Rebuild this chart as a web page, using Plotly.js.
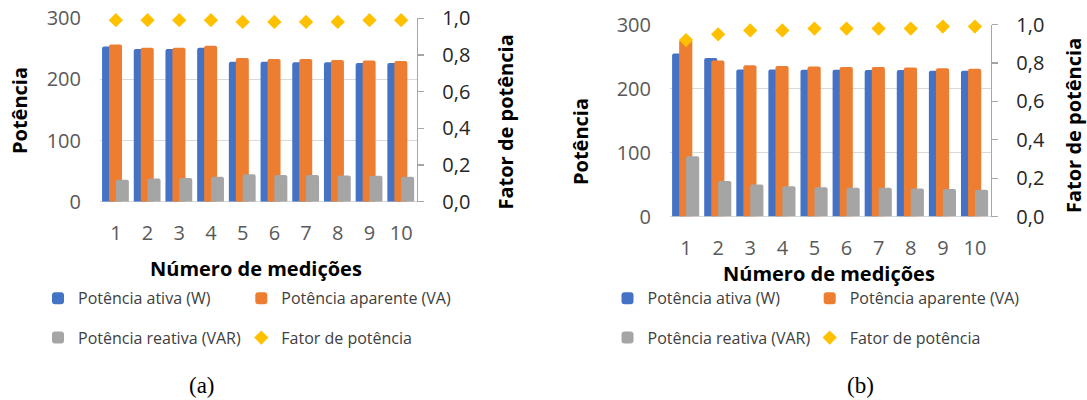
<!DOCTYPE html>
<html>
<head>
<meta charset="utf-8">
<script src="https://cdn.plot.ly/plotly-3.0.1.min.js"></script>
<style>
  html, body { margin: 0; padding: 0; background: #ffffff; }
  #grafico { width: 1087px; height: 400px; }
</style>
</head>
<body>
<div id="grafico"></div>
<script>
// Medições 1..10
const medicoes = ['1', '2', '3', '4', '5', '6', '7', '8', '9', '10'];

// (a)
const ativaA    = [254, 250, 250, 252, 229, 229, 228, 228, 227, 227];
const aparenteA = [257, 252, 252, 255, 235, 233.5, 233.5, 232, 231, 230];
const reativaA  = [36, 38, 39, 41, 45, 44, 44, 43, 42.5, 41];
const fatorA    = [0.99, 0.99, 0.99, 0.99, 0.98, 0.98, 0.98, 0.98, 0.99, 0.99];

// (b)
const ativaB    = [255, 248, 230, 230, 229.5, 229.5, 229, 229, 228, 228];
const aparenteB = [276, 244, 236.5, 235.5, 234.5, 234, 234, 233, 232, 231];
const reativaB  = [94.5, 55.5, 50, 47.5, 46, 45, 45, 44, 43, 42];
const fatorB    = [0.92, 0.95, 0.97, 0.97, 0.98, 0.98, 0.98, 0.98, 0.99, 0.99];

const nomes = {
  ativa: 'Potência ativa (W)',
  aparente: 'Potência aparente (VA)',
  reativa: 'Potência reativa (VAR)',
  fator: 'Fator de potência'
};

const cores = { ativa: '#4472C4', aparente: '#ED7D31', reativa: '#A5A5A5', fator: '#FFC000' };

const W = 1087, H = 400;
const FONTE = 'Open Sans, Lato, sans-serif';
const BAR_W = 0.41;

function barra(y, nome, cor, off, xa, ya, leg) {
  return {
    type: 'bar', x: medicoes, y: y, name: nome,
    width: BAR_W, offset: off,
    marker: { color: cor, cornerradius: 2, line: { width: 0 } },
    xaxis: xa, yaxis: ya, legend: leg, hoverinfo: 'skip'
  };
}
function fator(y, xa, ya, leg) {
  return {
    type: 'scatter', mode: 'markers', x: medicoes, y: y, name: nomes.fator,
    marker: { symbol: 'diamond', size: 11, color: cores.fator, line: { width: 0 } },
    xaxis: xa, yaxis: ya, legend: leg, cliponaxis: false, hoverinfo: 'skip'
  };
}

const dados = [
  barra(ativaA, nomes.ativa, cores.ativa, -0.435, 'x', 'y', 'legend'),
  barra(aparenteA, nomes.aparente, cores.aparente, -0.215, 'x', 'y', 'legend2'),
  barra(reativaA, nomes.reativa, cores.reativa, 0.0, 'x', 'y', 'legend3'),
  fator(fatorA, 'x', 'y2', 'legend4'),
  barra(ativaB, nomes.ativa, cores.ativa, -0.435, 'x2', 'y3', 'legend5'),
  barra(aparenteB, nomes.aparente, cores.aparente, -0.215, 'x2', 'y3', 'legend6'),
  barra(reativaB, nomes.reativa, cores.reativa, 0.0, 'x2', 'y3', 'legend7'),
  fator(fatorB, 'x2', 'y4', 'legend8')
];

const eixoX = (dom, anc) => ({
  domain: dom, anchor: anc, type: 'category', range: [-0.5, 9.5],
  showgrid: false, zeroline: false, showline: false, ticks: '',
  tickfont: { family: FONTE, size: 20, color: '#595959' },
  ticklabelstandoff: 17, fixedrange: true
});
const eixoPot = (dom, anc) => ({
  domain: dom, anchor: anc, range: [0, 300], tick0: 0, dtick: 100,
  showgrid: true, gridcolor: '#d9d9d9', gridwidth: 1.3,
  zeroline: true, zerolinecolor: '#d9d9d9', zerolinewidth: 1.3,
  showline: false, ticks: '',
  tickfont: { family: FONTE, size: 20, color: '#595959' },
  ticklabelstandoff: 18, fixedrange: true
});
const eixoFator = (sobre, anc) => ({
  overlaying: sobre, anchor: anc, side: 'right', range: [0, 1], tick0: 0, dtick: 0.2,
  tickformat: '.1f', showgrid: false, zeroline: false,
  showline: true, linecolor: '#a6a6a6', linewidth: 1.3,
  ticks: 'outside', ticklen: 6, tickcolor: '#a6a6a6', tickwidth: 1.3,
  tickfont: { family: FONTE, size: 20, color: '#262626' },
  ticklabelstandoff: 14, fixedrange: true
});

// one legend box per entry, so every entry sits at its own spot
const legenda = (textoX, ypx) => ({
  x: (textoX - 39) / W, xanchor: 'left', y: 1 - ypx / H, yanchor: 'middle',
  orientation: 'h',
  font: { family: FONTE, size: 16, color: '#404040' },
  bgcolor: 'rgba(0,0,0,0)', borderwidth: 0
});

const rotulo = (texto, xpx, ypx, extra) => Object.assign({
  text: texto, xref: 'paper', yref: 'paper', x: xpx / W, y: 1 - ypx / H,
  xanchor: 'center', yanchor: 'middle', showarrow: false,
  font: { family: FONTE, size: 20, color: '#000000', weight: 'bold' }
}, extra || {});

const serif = { font: { family: 'Liberation Serif, Times New Roman, serif', size: 23, color: '#000000' } };

const layout = {
  width: W, height: H, autosize: false,
  margin: { l: 0, r: 0, t: 0, b: 0, pad: 0 },
  paper_bgcolor: '#ffffff', plot_bgcolor: '#ffffff',
  separators: ',.',
  barmode: 'overlay',
  showlegend: true,
  xaxis: eixoX([100 / W, 417 / W], 'y'),
  yaxis: eixoPot([1 - 201.8 / H, 1 - 18.3 / H], 'x'),
  yaxis2: eixoFator('y', 'x'),
  xaxis2: eixoX([670 / W, 991 / W], 'y3'),
  yaxis3: eixoPot([1 - 216.6 / H, 1 - 24.7 / H], 'x2'),
  yaxis4: eixoFator('y3', 'x2'),
  legend:  legenda(77, 298.3),
  legend2: legenda(280.3, 298.3),
  legend3: legenda(77, 337.7),
  legend4: legenda(280.3, 337.7),
  legend5: legenda(646.5, 298.3),
  legend6: legenda(848.7, 298.3),
  legend7: legenda(646.5, 337.7),
  legend8: legenda(848.7, 337.7),
  annotations: [
    rotulo('Potência', 19, 111, { textangle: -90 }),
    rotulo('Fator de potência', 505, 122.5, { textangle: -90 }),
    rotulo('Número de medições', 255.5, 268.3),
    rotulo('Potência', 580, 142, { textangle: -90 }),
    rotulo('Fator de potência', 1074, 126, { textangle: -90 }),
    rotulo('Número de medições', 829, 273.3),
    rotulo('(a)', 201.7, 385, serif),
    rotulo('(b)', 860, 385, serif)
  ]
};

Plotly.newPlot('grafico', dados, layout, { staticPlot: true, displayModeBar: false });
</script>
</body>
</html>
